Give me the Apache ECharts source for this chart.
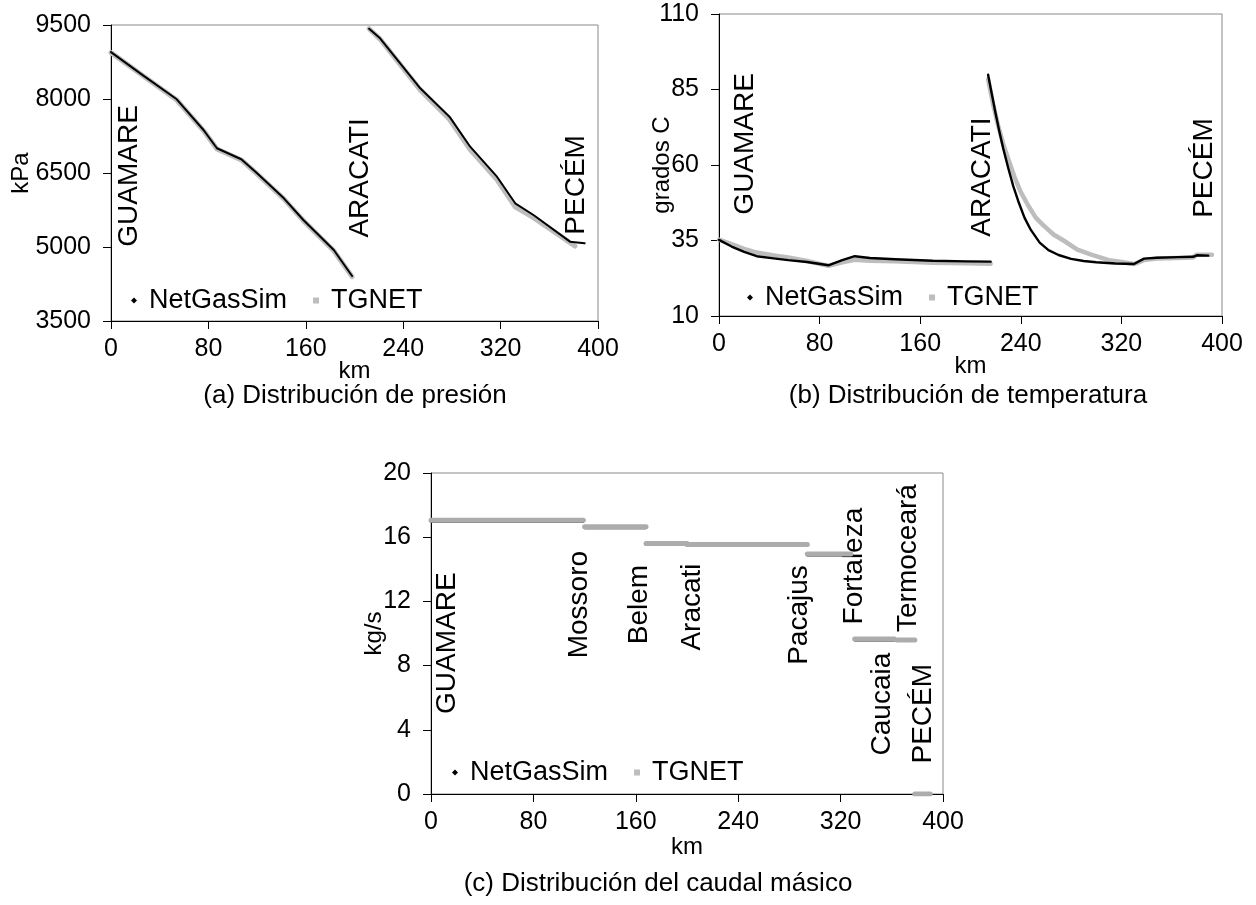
<!DOCTYPE html>
<html><head><meta charset="utf-8">
<script src="https://cdn.jsdelivr.net/npm/echarts@6.0.0/dist/echarts.min.js"></script>
<style>html,body{margin:0;padding:0;background:#fff}#c{width:1256px;height:905px}</style>
</head><body><div id="c"></div>
<script>
// ---------- DATA (null separates pipeline segments) ----------
// (a) Pressure, kPa
const presKmNet  = [0, 26, 54, 76, 87, 107, 120, 142, 158, 183, 198, null, 212, 221, 254, 278, 295, 317, 332, 347, 377, 389];
const presNet    = [8950, 8485, 7994, 7372, 7001, 6778, 6494, 5987, 5547, 4939, 4412, null, 9425, 9230, 8217, 7642, 7033, 6425, 5886, 5649, 5108, 5075];
const presKmTg   = [0, 26, 54, 76, 87, 107, 120, 142, 158, 183, 198, null, 212, 221, 254, 278, 295, 317, 332, 347, 381];
const presTg     = [8940, 8475, 7980, 7360, 6985, 6765, 6480, 5975, 5535, 4925, 4400, null, 9425, 9215, 8185, 7590, 6975, 6365, 5815, 5595, 5020];
// (b) Temperature, grados C
const tempKmNet  = [0, 10, 20, 30, 45, 55, 70, 87, 98, 108, 120, 140, 170, 197, 216, null,
                    214, 216, 218, 220, 223, 226, 230, 234, 238, 243, 248, 255, 262, 270, 280, 290, 300, 315, 330, 338, 348, 365, 377, 380, 389];
const tempNet    = [35.2, 33.0, 31.2, 29.8, 29.0, 28.5, 27.9, 26.8, 28.5, 29.8, 29.2, 28.8, 28.3, 28.1, 28.0, null,
                    89.9, 85.5, 81.3, 77.0, 71.0, 65.5, 59.0, 53.0, 48.0, 42.5, 38.5, 34.3, 31.8, 30.2, 28.9, 28.2, 27.8, 27.4, 27.2, 29.0, 29.3, 29.5, 29.6, 30.1, 30.0];
const tempKmTg   = [0, 10, 20, 30, 45, 55, 70, 87, 98, 108, 120, 140, 170, 197, 216, null,
                    214, 218, 222, 226, 230, 235, 240, 246, 252, 258, 266, 274, 285, 296, 310, 320, 330, 338, 348, 365, 377, 380, 392];
const tempTg     = [35.3, 33.8, 32.2, 31.0, 30.0, 29.4, 28.2, 26.6, 27.8, 28.6, 28.3, 28.1, 27.6, 27.5, 27.3, null,
                    88.4, 80.0, 73.0, 67.0, 62.0, 56.0, 51.0, 46.5, 42.5, 40.0, 37.0, 35.0, 32.0, 30.3, 28.5, 27.9, 27.2, 28.5, 29.0, 29.2, 29.4, 30.3, 30.3];
// (c) Mass flow, kg/s
const flowKmNet  = [0, 119, null, 120, 168, null, 168, 200, null, 200, 294, null, 294, 330, null, 331, 362, null, 364, 378, null, 378, 390];
const flowNet    = [16.95, 16.95, null, 16.55, 16.55, null, 15.5, 15.5, null, 15.45, 15.45, null, 14.85, 14.85, null, 9.55, 9.55, null, 9.55, 9.55, null, 0, 0];
const flowKmTg   = [0, 119, null, 120, 168, null, 168, 200, null, 200, 294, null, 294, 328, null, 331, 362, null, 364, 378, null, 378, 390];
const flowTg     = [17.05, 17.05, null, 16.65, 16.65, null, 15.6, 15.6, null, 15.55, 15.55, null, 14.95, 14.95, null, 9.65, 9.65, null, 9.6, 9.6, null, 0, 0];

// Tick labels
const kmTicks   = [0, 80, 160, 240, 320, 400];
const presTicks = [3500, 5000, 6500, 8000, 9500];
const tempTicks = [10, 35, 60, 85, 110];
const flowTicks = [0, 4, 8, 12, 16, 20];

// Station names and their label anchors (in data units)
const presStations = ['GUAMARE', 'ARACATI', 'PECÉM'];
const presStKm = [15, 205, 382];
const presStVal = [6440, 6400, 6260];
const tempStations = ['GUAMARE', 'ARACATI', 'PECÉM'];
const tempStKm = [21, 209, 386];
const tempStVal = [67, 56, 59];
const flowStations = ['GUAMARE', 'Mossoro', 'Belem', 'Aracati', 'Pacajus', 'Fortaleza', 'Caucaia', 'Termoceará', 'PECÉM'];
const flowStKm = [12.7, 115.8, 162.5, 204, 288, 331, 352.7, 373, 384.4];
const flowStVal = [9.4, 11.8, 11.8, 11.65, 11.15, 14.2, 5.6, 14.7, 5.0];

const titles = ['(a) Distribución de presión', '(b) Distribución de temperatura', '(c) Distribución del caudal másico'];

// ---------- CHART ----------
const FONT = '"Liberation Sans", Arial, sans-serif';
const BLACK = '#000';
const GRAY = '#bdbdbd';

function segments(kms, vals) {
  const out = [[]];
  kms.forEach((k, i) => {
    if (k === null) { out.push([]); }
    else out[out.length - 1].push([k, vals[i]]);
  });
  return out.filter(s => s.length);
}

const grids = [
  {left: 111, top: 25, width: 487, height: 296},
  {left: 719, top: 14, width: 503, height: 302},
  {left: 431, top: 473, width: 512, height: 321}
];

function xAxis(i, gap) {
  return {
    type: 'value', gridIndex: i, min: 0, max: 400, interval: 80,
    name: 'km', nameLocation: 'middle', nameGap: gap, nameMoveOverlap: false,
    nameTextStyle: {fontFamily: FONT, fontSize: 24, color: BLACK},
    axisLine: {show: true, onZero: false, lineStyle: {color: BLACK, width: 1}},
    axisTick: {show: true, inside: false, length: 8, customValues: kmTicks, lineStyle: {color: BLACK}},
    axisLabel: {fontFamily: FONT, fontSize: 25, color: BLACK, margin: 16, customValues: kmTicks,
                formatter: v => String(v)},
    splitLine: {show: false}
  };
}
function yAxis(i, name, min, max, ticks, gap) {
  return {
    type: 'value', gridIndex: i, min: min, max: max,
    name: name, nameLocation: 'middle', nameGap: gap, nameRotate: 90, nameMoveOverlap: false,
    nameTextStyle: {fontFamily: FONT, fontSize: 24, color: BLACK},
    axisLine: {show: true, onZero: false, lineStyle: {color: BLACK, width: 1}},
    axisTick: {show: true, length: 8, customValues: ticks, lineStyle: {color: BLACK}},
    axisLabel: {fontFamily: FONT, fontSize: 25, color: BLACK, margin: 20, customValues: ticks,
                formatter: v => String(v)},
    splitLine: {show: false}
  };
}

const series = [];
function addSeries(name, kms, vals, gi, color, width, z) {
  segments(kms, vals).forEach(seg => {
    series.push({
      type: 'line', name: name, xAxisIndex: gi, yAxisIndex: gi,
      data: seg, showSymbol: false, symbol: name === 'NetGasSim' ? 'diamond' : 'rect',
      color: color, z: z,
      lineStyle: {color: color, width: width, cap: 'round', join: 'round'},
      emphasis: {disabled: true}, silent: true
    });
  });
}
addSeries('TGNET', presKmTg, presTg, 0, GRAY, 5, 2);
addSeries('NetGasSim', presKmNet, presNet, 0, BLACK, 2, 3);
addSeries('TGNET', tempKmTg, tempTg, 1, GRAY, 4.5, 2);
addSeries('NetGasSim', tempKmNet, tempNet, 1, BLACK, 2.4, 3);
addSeries('NetGasSim', flowKmNet, flowNet, 2, BLACK, 1.6, 2);
addSeries('TGNET', flowKmTg, flowTg, 2, '#acacac', 5, 3);

function legend(left, top) {
  return {
    left: left, top: top, orient: 'horizontal', itemGap: 26,
    itemWidth: 6, itemHeight: 6, selectedMode: false,
    data: [{name: 'NetGasSim', icon: 'diamond', itemStyle: {color: BLACK}},
           {name: 'TGNET', icon: 'rect', itemStyle: {color: GRAY}}],
    textStyle: {fontFamily: FONT, fontSize: 27, color: BLACK, padding: [0, 0, 0, 7]}
  };
}

const chart = echarts.init(document.getElementById('c'), null, {renderer: 'canvas'});
const gridStyle = {show: true, borderColor: '#8a8a8a', borderWidth: 1, backgroundColor: 'transparent'};
chart.setOption({
  animation: false,
  backgroundColor: '#fff',
  grid: grids.map(g => Object.assign({}, g, gridStyle)),
  xAxis: [xAxis(0, 38), xAxis(1, 38), xAxis(2, 41)],
  yAxis: [
    yAxis(0, 'kPa', 3500, 9500, presTicks, 78),
    yAxis(1, 'grados C', 10, 110, tempTicks, 45),
    yAxis(2, 'kg/s', 0, 20, flowTicks, 45)
  ],
  legend: [legend(126, 282), legend(742, 279), legend(447, 754)],
  series: series
});

// station labels and titles
const graphics = [];
function addStations(gi, names, kms, vals) {
  names.forEach((n, i) => {
    const p = chart.convertToPixel({gridIndex: gi}, [kms[i], vals[i]]);
    graphics.push({
      type: 'text', x: p[0], y: p[1], rotation: Math.PI / 2, silent: true,
      style: {text: n, font: '28px ' + FONT, fill: BLACK, textAlign: 'center', textVerticalAlign: 'middle'}
    });
  });
}
addStations(0, presStations, presStKm, presStVal);
addStations(1, tempStations, tempStKm, tempStVal);
addStations(2, flowStations, flowStKm, flowStVal);
const titlePos = [[355, 396], [968, 396], [658, 884]];
titles.forEach((t, i) => {
  graphics.push({
    type: 'text', x: titlePos[i][0], y: titlePos[i][1], silent: true,
    style: {text: t, font: '26px ' + FONT, fill: BLACK, textAlign: 'center', textVerticalAlign: 'middle'}
  });
});
chart.setOption({graphic: graphics});
</script>
</body></html>
